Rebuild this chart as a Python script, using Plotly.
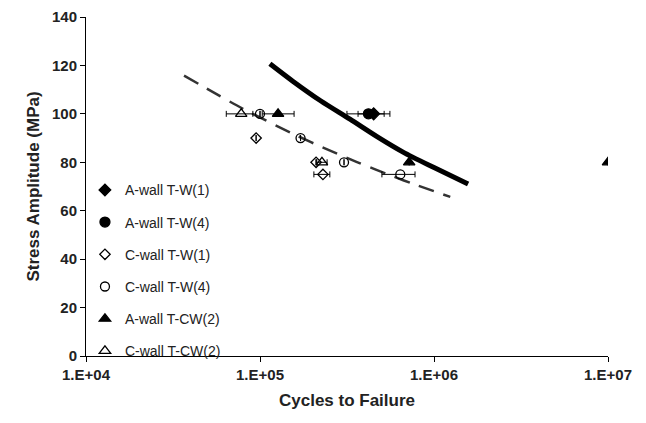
import plotly.graph_objects as go

# ---- data ----
aw_tw1_x = [4.5e5]
aw_tw1_y = [100]
aw_tw1_em = [0.84e5]
aw_tw1_ep = [0.67e5]

aw_tw4_x = [4.2e5]
aw_tw4_y = [100]
aw_tw4_em = [1.04e5]
aw_tw4_ep = [1.38e5]

cw_tw1_x = [9.5e4, 2.1e5, 2.3e5]
cw_tw1_y = [90, 80, 75]
cw_tw1_em = [0, 0, 0.26e5]
cw_tw1_ep = [0, 0, 0.22e5]

cw_tw4_x = [1.0e5, 1.71e5, 3.04e5, 6.4e5]
cw_tw4_y = [100, 90, 80, 75]
cw_tw4_em = [0, 0, 0, 1.38e5]
cw_tw4_ep = [0, 0, 0, 1.38e5]

aw_tcw2_x = [1.27e5, 7.2e5, 1.0e7]
aw_tcw2_y = [100, 80, 80]
aw_tcw2_em = [0.24e5, 0, 0]
aw_tcw2_ep = [0.30e5, 0, 0]

cw_tcw2_x = [7.8e4, 2.27e5]
cw_tcw2_y = [100, 80]
cw_tcw2_em = [1.4e4, 0.15e5]
cw_tcw2_ep = [1.3e4, 0.16e5]

fit_a_x = [1.14e5, 1.55e5, 2.24e5, 3.29e5, 4.68e5, 6.64e5, 1.0e6, 1.57e6]
fit_a_y = [120.7, 113.4, 105.3, 97.8, 90.7, 84.2, 77.8, 71.0]

fit_c_x = [3.66e4, 7.98e4, 1.63e5, 2.49e5, 3.61e5, 5.81e5, 7.78e5, 1.24e6]
fit_c_y = [115.8, 102.1, 91.0, 85.0, 80.1, 74.2, 70.8, 65.7]

x_tickvals = [1e4, 1e5, 1e6, 1e7]
x_ticktext = ["1.E+04", "1.E+05", "1.E+06", "1.E+07"]
y_tickvals = [0, 20, 40, 60, 80, 100, 120, 140]

fig = go.Figure()

fig.add_trace(go.Scatter(x=fit_c_x, y=fit_c_y, mode="lines", showlegend=False,
                         line=dict(color="#333333", width=2.5, dash="16px,10px",
                                   shape="spline", smoothing=0.8)))
fig.add_trace(go.Scatter(x=fit_a_x, y=fit_a_y, mode="lines", showlegend=False,
                         line=dict(color="black", width=5, shape="spline", smoothing=0.8)))

series = [
    ("A-wall T-W(1)", aw_tw1_x, aw_tw1_y, aw_tw1_em, aw_tw1_ep, "diamond", 9),
    ("A-wall T-W(4)", aw_tw4_x, aw_tw4_y, aw_tw4_em, aw_tw4_ep, "circle", 10),
    ("C-wall T-W(1)", cw_tw1_x, cw_tw1_y, cw_tw1_em, cw_tw1_ep, "diamond-open", 8),
    ("C-wall T-W(4)", cw_tw4_x, cw_tw4_y, cw_tw4_em, cw_tw4_ep, "circle-open", 9),
    ("A-wall T-CW(2)", aw_tcw2_x, aw_tcw2_y, aw_tcw2_em, aw_tcw2_ep, "triangle-up", 10),
    ("C-wall T-CW(2)", cw_tcw2_x, cw_tcw2_y, cw_tcw2_em, cw_tcw2_ep, "triangle-up-open", 10),
]
for i, (name, xs, ys, em, ep, sym, sz) in enumerate(series):
    fig.add_trace(go.Scatter(
        x=xs, y=ys, mode="markers", name=name, legendgroup=name,
        marker=dict(symbol=sym, size=sz, color="black", line=dict(color="black", width=1.3)),
        error_x=dict(type="data", symmetric=False, array=ep, arrayminus=em,
                     color="black", thickness=1, width=3),
    ))

fig.update_layout(
    width=638, height=415,
    margin=dict(l=78, r=38, t=9, b=67),
    paper_bgcolor="white", plot_bgcolor="white",
    font=dict(family="Liberation Sans, Arial, sans-serif", color="#222"),
    legend=dict(x=-0.002, y=0.536, xanchor="left", yanchor="top",
                font=dict(size=14, color="#222"), tracegroupgap=11,
                bgcolor="rgba(0,0,0,0)", itemwidth=30),
    xaxis=dict(type="log", range=[4, 7], tickvals=x_tickvals, ticktext=x_ticktext,
               automargin=False,
               showgrid=False, zeroline=False, showline=True, linecolor="black", linewidth=1,
               ticks="outside", ticklen=5, tickcolor="black",
               tickfont=dict(size=15, family="Liberation Sans, Arial", color="#222", weight="bold"),
               title=dict(text="<b>Cycles to Failure</b>", font=dict(size=17), standoff=12)),
    yaxis=dict(range=[0, 140], tickvals=y_tickvals,
               automargin=False, ticklabeloverflow="allow",
               showgrid=False, zeroline=False, showline=True, linecolor="black", linewidth=1,
               ticks="outside", ticklen=5, tickcolor="black",
               tickfont=dict(size=15, family="Liberation Sans, Arial", color="#222", weight="bold"),
               title=dict(text="<b>Stress Amplitude (MPa)</b>", font=dict(size=17), standoff=8)),
)

fig.write_html("out.html")
